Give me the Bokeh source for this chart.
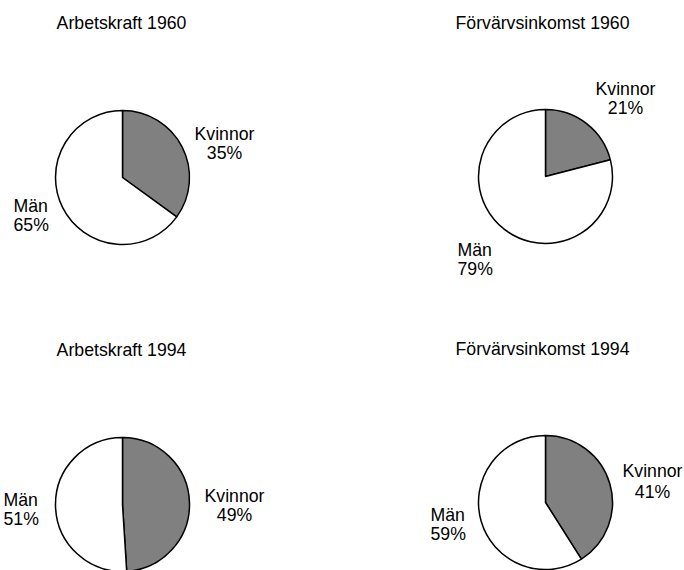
from bokeh.plotting import figure
from bokeh.models import Range1d
from bokeh.core.properties import value
from bokeh.embed import file_html
from bokeh.resources import INLINE
import math

# ---- data ----
titles = ["Arbetskraft 1960", "Förvärvsinkomst 1960", "Arbetskraft 1994", "Förvärvsinkomst 1994"]
categories = ["Kvinnor", "Män"]
kvinnor = [35, 21, 49, 41]
man = [65, 79, 51, 59]
colors = ["#808080", "#ffffff"]

# ---- layout (screen px) ----
W, H = 684, 570
FONT = value("Liberation Sans")
FS = "17.7px"

centers = [(122, 177), (545, 176), (122, 504), (545, 502)]
R = 67
title_pos = [(121, 22), (542, 22), (121, 349), (542, 348)]
kv_pos = [(224, 133, 152), (625, 88, 107), (234, 495, 514), (652, 470, 491)]   # center x, y1, y2
man_pos = [(13, 205, 224), (457, 249, 268), (3, 499, 518), (430, 514, 533)]     # left x, y1, y2


def X(sx):
    return sx


def Y(sy):
    return H - sy


p = figure(width=W, height=H, output_backend="svg", toolbar_location=None,
           x_range=Range1d(0, W), y_range=Range1d(0, H), min_border=0)
p.axis.visible = False
p.grid.visible = False
p.outline_line_color = None
p.background_fill_color = "white"
p.border_fill_color = "white"

for i in range(4):
    cx, cy = centers[i]
    vals = [kvinnor[i], man[i]]
    total = sum(vals)
    start = math.pi / 2
    for j, v in enumerate(vals):
        end = start - 2 * math.pi * v / total
        p.wedge(x=[X(cx)], y=[Y(cy)], radius=R, start_angle=[start], end_angle=[end],
                direction="clock", fill_color=colors[j], line_color="black", line_width=1.5)
        start = end

    tx, ty = title_pos[i]
    p.text(x=[X(tx)], y=[Y(ty)], text=[titles[i]], text_align="center", text_baseline="middle",
           text_font=FONT, text_font_size=FS, text_color="black")

    kx, ky1, ky2 = kv_pos[i]
    p.text(x=[X(kx), X(kx)], y=[Y(ky1), Y(ky2)], text=[categories[0], f"{kvinnor[i]}%"],
           text_align="center", text_baseline="middle", text_font=FONT, text_font_size=FS,
           text_color="black")

    mx, my1, my2 = man_pos[i]
    p.text(x=[X(mx), X(mx)], y=[Y(my1), Y(my2)], text=[categories[1], f"{man[i]}%"],
           text_align="left", text_baseline="middle", text_font=FONT, text_font_size=FS,
           text_color="black")

open("out.html", "w").write(file_html(p, INLINE))
